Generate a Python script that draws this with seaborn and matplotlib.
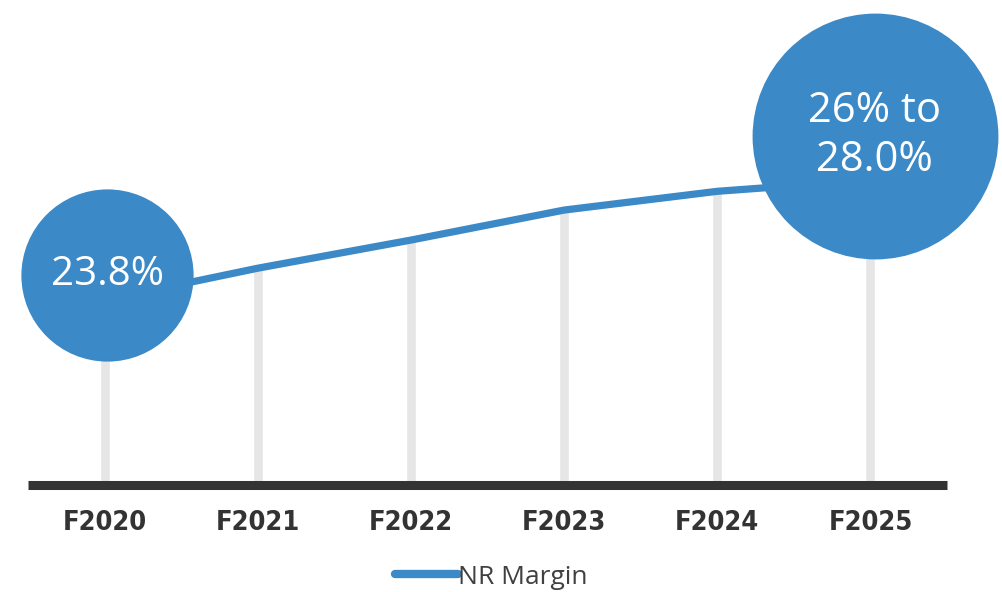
import matplotlib
matplotlib.use('Agg')
import matplotlib.pyplot as plt
import matplotlib.transforms as mtransforms
from matplotlib.lines import Line2D
import pandas as pd
import seaborn as sns

# Data
years = ['F2020', 'F2021', 'F2022', 'F2023', 'F2024', 'F2025']
nr_margin = [23.8, 24.65, 25.4, 26.2, 26.7, 27.0]
start_label = '23.8%'
end_label = '26% to\n28.0%'
series_name = 'NR Margin'

df = pd.DataFrame({'year': years, 'margin': nr_margin})

blue = '#3b89c7'
grey_bar = '#e6e6e6'
dark = '#333333'

sns.set_style('white')
plt.rcParams['font.family'] = ['Open Sans', 'DejaVu Sans']

fig = plt.figure(figsize=(10.03, 5.92), dpi=100)
ax = fig.add_axes([0.0279, 0.1807, 0.9163, 0.8193])

# grey stalks under the line
sns.barplot(data=df, x='year', y='margin', color=grey_bar, width=0.065,
            saturation=1, ax=ax, zorder=1)
ax.set_ylim(18.87, 31.8)
# bars should start at the baseline, not at 0
for p in ax.patches:
    p.set_y(18.87)
    p.set_height(p.get_height() - 18.87)

sns.lineplot(data=df, x='year', y='margin', color=blue, linewidth=5.2,
             ax=ax, zorder=3, solid_capstyle='round')

ax.set_xlim(-0.5, 5.5)

# bubbles at the first and last point
first = mtransforms.offset_copy(ax.transData, fig=fig, x=2, y=18, units='points')
ax.scatter([0], [nr_margin[0]], s=124 ** 2, color=blue, transform=first, zorder=4,
           linewidths=0, clip_on=False)
ax.text(0, nr_margin[0], start_label, transform=first, color='white', fontsize=29,
        ha='center', va='center', zorder=5)
last = mtransforms.offset_copy(ax.transData, fig=fig, x=3, y=32, units='points')
ax.scatter([5], [nr_margin[-1]], s=177 ** 2, color=blue, transform=last, zorder=4,
           linewidths=0, clip_on=False)
ax.text(5, nr_margin[-1], end_label, transform=last, color='white', fontsize=30,
        ha='center', va='center', linespacing=1.2, zorder=5)

# axis styling
for side in ['top', 'right', 'left']:
    ax.spines[side].set_visible(False)
ax.spines['bottom'].set_color(dark)
ax.spines['bottom'].set_linewidth(6.5)
ax.spines['bottom'].set_capstyle('butt')
ax.spines['bottom'].set_zorder(2)
ax.set_yticks([])
ax.set_xlabel('')
ax.set_ylabel('')
ax.tick_params(axis='x', length=0, pad=18)
for lab in ax.get_xticklabels():
    lab.set_fontfamily(['DejaVu Sans'])
    lab.set_fontstretch('condensed')
    lab.set_fontweight('bold')
    lab.set_fontsize(19.5)
    lab.set_color(dark)

handle = Line2D([], [], color=blue, linewidth=6, solid_capstyle='round')
fig.legend([handle], [series_name], loc='center', bbox_to_anchor=(0.49, 0.025),
           frameon=False, fontsize=19, handlelength=2.4, handletextpad=0.0,
           labelcolor='#404040')

fig.savefig('out.png', dpi=100)
